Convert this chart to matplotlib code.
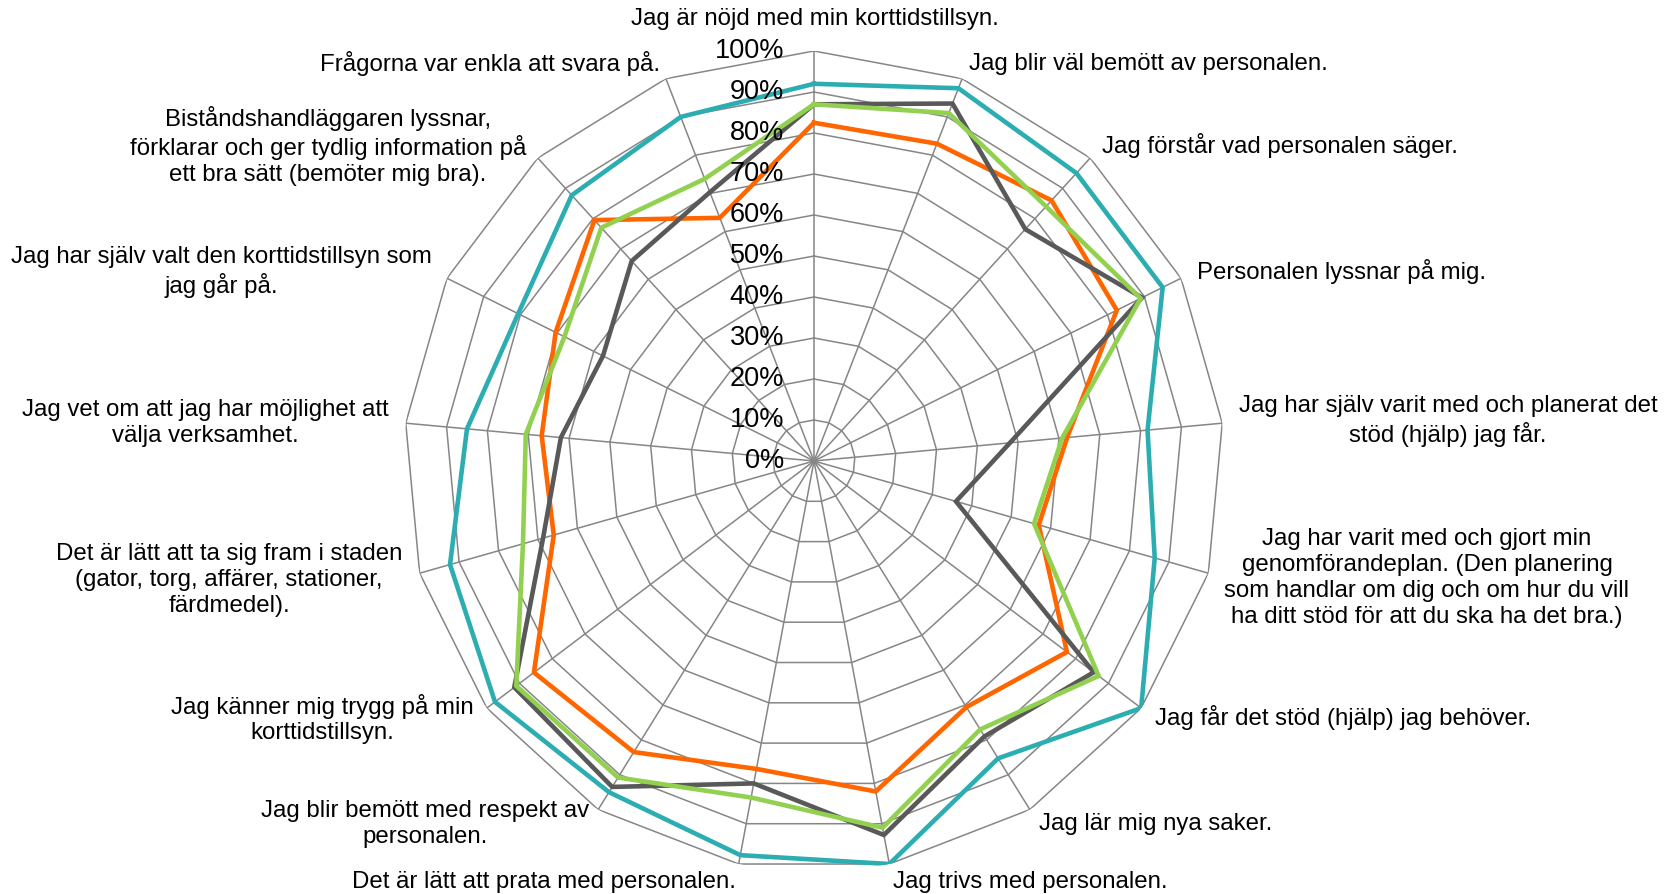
import numpy as np
import matplotlib
matplotlib.use("Agg")
import matplotlib.pyplot as plt

plt.rcParams['font.family'] = ['Liberation Sans', 'DejaVu Sans']

categories = [
    "Jag är nöjd med min korttidstillsyn.",
    "Jag blir väl bemött av personalen.",
    "Jag förstår vad personalen säger.",
    "Personalen lyssnar på mig.",
    "Jag har själv varit med och planerat det\nstöd (hjälp) jag får.",
    "Jag har varit med och gjort min\ngenomförandeplan. (Den planering\nsom handlar om dig och om hur du vill\nha ditt stöd för att du ska ha det bra.)",
    "Jag får det stöd (hjälp) jag behöver.",
    "Jag lär mig nya saker.",
    "Jag trivs med personalen.",
    "Det är lätt att prata med personalen.",
    "Jag blir bemött med respekt av\npersonalen.",
    "Jag känner mig trygg på min\nkorttidstillsyn.",
    "Det är lätt att ta sig fram i staden\n(gator, torg, affärer, stationer,\nfärdmedel).",
    "Jag vet om att jag har möjlighet att\nvälja verksamhet.",
    "Jag har själv valt den korttidstillsyn som\njag går på.",
    "Biståndshandläggaren lyssnar,\nförklarar och ger tydlig information på\nett bra sätt (bemöter mig bra).",
    "Frågorna var enkla att svara på.",
]

teal = [92, 97.5, 95, 95, 81.7, 86.4, 100, 85.3, 100, 97.8, 95, 97.5, 92.3, 85, 80.6, 87.7, 90]
gray = [87, 93.5, 76.5, 89.4, 48, 36, 85.5, 79, 92.8, 80, 93.5, 91.6, 68.7, 62, 57.5, 66, 70.3]
green = [87, 91, 84, 89, 60.8, 55.8, 87, 77, 91, 83.5, 90.8, 91, 73.8, 70.6, 68, 77, 73.8]
orange = [82.5, 83, 86, 82.5, 62, 57, 77.3, 70.6, 82, 76.4, 83.5, 85.6, 66, 66.7, 70.4, 79.5, 63.6]

levels = [0, 10, 20, 30, 40, 50, 60, 70, 80, 90, 100]
level_labels = [f"{v}%" for v in levels]

W, H = 1675, 894
fig = plt.figure(figsize=(W / 100, H / 100), dpi=100)
cx, cy, R = 814, 461, 410
ax = fig.add_axes([(cx - R) / W, (H - cy - R) / H, 2 * R / W, 2 * R / H], projection='polar')
ax.set_theta_zero_location('N')
ax.set_theta_direction(-1)
ax.set_ylim(0, 100)
ax.axis('off')

n = len(categories)
theta = np.arange(n) * 2 * np.pi / n
theta_c = np.append(theta, theta[0])

gc = '#868686'
for lv in levels[1:]:
    ax.plot(theta_c, [lv] * (n + 1), color=gc, lw=1.1, zorder=1)
for t in theta:
    ax.plot([t, t], [0, 100], color=gc, lw=1.1, zorder=1)

series = [(teal, '#2CADB1'), (orange, '#FF6600'), (gray, '#595959'), (green, '#92D050')]
for i, (vals, col) in enumerate(series):
    v = np.append(vals, vals[0])
    ax.plot(theta_c, v, color=col, lw=3.3, zorder=3 + i, solid_joinstyle='miter')

for lv, lab in zip(levels, level_labels):
    ax.annotate(lab, xy=(0, lv), xytext=(-30, 0), textcoords='offset pixels',
                ha='right', va='center', fontsize=19.5, color='black', zorder=10)

# category label positions (pixels) and alignment
label_pos = [
    (815, 19, 'center'),
    (969, 64, 'left'),
    (1102, 145, 'left'),
    (1197, 272, 'left'),
    (1448, 421, 'center'),
    (1427, 578, 'center'),
    (1155, 718, 'left'),
    (1039, 824, 'left'),
    (893, 882, 'left'),
    (736, 882, 'right'),
    (425, 824, 'center'),
    (322, 719, 'center'),
    (229, 580, 'center'),
    (205, 423, 'center'),
    (221, 272, 'center'),
    (328, 146, 'center'),
    (660, 63, 'right'),
]
for lab, (x, y, ha) in zip(categories, label_pos):
    fig.text(x / W, 1 - y / H, lab, ha=ha, va='center', multialignment='center',
             fontsize=17.3, linespacing=1.22, color='black')

fig.savefig('out.png', dpi=100, facecolor='white')
